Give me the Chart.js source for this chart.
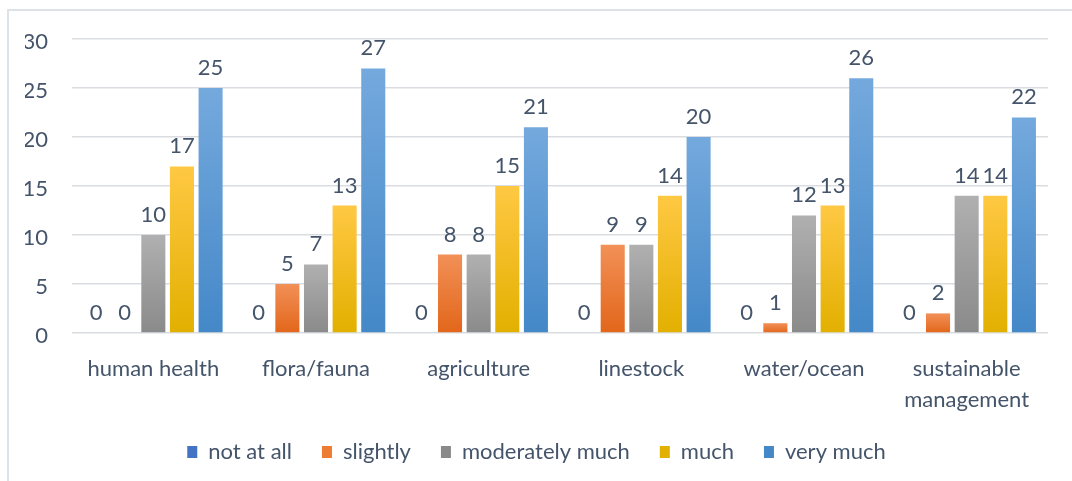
<!DOCTYPE html>
<html>
<head>
<meta charset="utf-8">
<script src="https://cdn.jsdelivr.net/npm/chart.js@4/dist/chart.umd.min.js"></script>
<style>
  html, body { margin: 0; padding: 0; background: #fff; }
  #wrap { position: relative; width: 1072px; height: 481px; overflow: hidden; }
  #frame { position: absolute; left: 7px; top: 9px; width: 1100px; height: 500px;
           border-top: 2px solid #dde2e8; border-left: 2px solid #dde2e8; }
  #box { position: absolute; left: 0; top: 0; width: 1072px; height: 481px; }
</style>
</head>
<body>
<div id="wrap">
  <div id="frame"></div>
  <div id="box"><canvas id="bars"></canvas></div>
</div>
<script>
var categories = ['human health', 'flora/fauna', 'agriculture', 'linestock', 'water/ocean', ['sustainable', 'management']];
var notAtAll   = [0, 0, 0, 0, 0, 0];
var slightly   = [0, 5, 8, 9, 1, 2];
var moderately = [10, 7, 8, 9, 12, 14];
var much       = [17, 13, 15, 14, 13, 14];
var veryMuch   = [25, 27, 21, 20, 26, 22];
var yTicks     = [0, 5, 10, 15, 20, 25, 30];

var FONT = 'Lato';
var TEXT = '#44546a';

// excel-ish vertical gradient on each bar
function barFill(top, mid, bottom) {
  return function (ctx) {
    var chart = ctx.chart;
    if (ctx.type !== 'data' || !chart.chartArea || !chart.scales.y) return mid;
    var y = chart.scales.y;
    var yTop = y.getPixelForValue(ctx.parsed.y), yBot = y.getPixelForValue(0);
    if (yBot - yTop < 1) return mid;
    var g = chart.ctx.createLinearGradient(0, yTop, 0, yBot);
    g.addColorStop(0, top);
    g.addColorStop(1, bottom);
    return g;
  };
}

var valueLabels = {
  id: 'valueLabels',
  afterDatasetsDraw: function (chart) {
    var c = chart.ctx;
    c.save();
    c.font = '22px ' + FONT;
    c.fillStyle = TEXT;
    c.textAlign = 'center';
    c.textBaseline = 'middle';
    chart.data.datasets.forEach(function (ds, i) {
      chart.getDatasetMeta(i).data.forEach(function (bar, j) {
        c.fillText(ds.data[j], bar.x, bar.y - 20);
      });
    });
    c.restore();
  }
};

var ctx = document.getElementById('bars');
var chart = new Chart(ctx, {
  type: 'bar',
  data: {
    labels: categories,
    datasets: [
      { label: 'not at all', data: notAtAll, backgroundColor: barFill('#5585d4', '#4472c4', '#3a64b2') },
      { label: 'slightly', data: slightly, backgroundColor: barFill('#f29057', '#ed7d31', '#e2661a') },
      { label: 'moderately much', data: moderately, backgroundColor: barFill('#b0b0b0', '#a5a5a5', '#8a8a8a') },
      { label: 'much', data: much, backgroundColor: barFill('#ffc843', '#ffc000', '#e2b000') },
      { label: 'very much', data: veryMuch, backgroundColor: barFill('#74a9dd', '#5b9bd5', '#4488c8') }
    ]
  },
  options: {
    responsive: true,
    maintainAspectRatio: false,
    animation: false,
    categoryPercentage: 0.88,
    barPercentage: 0.84,
    layout: { padding: { left: 25, right: 24, top: 39, bottom: 8 } },
    plugins: {
      tooltip: { enabled: false },
      legend: {
        position: 'bottom',
        labels: {
          color: TEXT,
          font: { family: FONT, size: 22 },
          boxWidth: 10,
          boxHeight: 12,
          padding: 30
        }
      }
    },
    scales: {
      x: {
        grid: { display: false },
        border: { display: false },
        ticks: {
          color: TEXT,
          font: { family: FONT, size: 22, lineHeight: 1.4 },
          maxRotation: 0,
          autoSkip: false,
          padding: 13
        },
        afterFit: function (s) { s.height = 78; }
      },
      y: {
        min: 0,
        max: 30,
        afterBuildTicks: function (s) { s.ticks = yTicks.map(function (v) { return { value: v }; }); },
        grid: { color: '#d9dde2', lineWidth: 1.5, drawTicks: false },
        border: { display: false },
        ticks: {
          color: TEXT,
          font: { family: FONT, size: 22 },
          padding: 24,
          labelOffset: 3
        },
        afterFit: function (s) { s.width = 47; }
      }
    }
  },
  plugins: [valueLabels]
});
</script>
</body>
</html>
